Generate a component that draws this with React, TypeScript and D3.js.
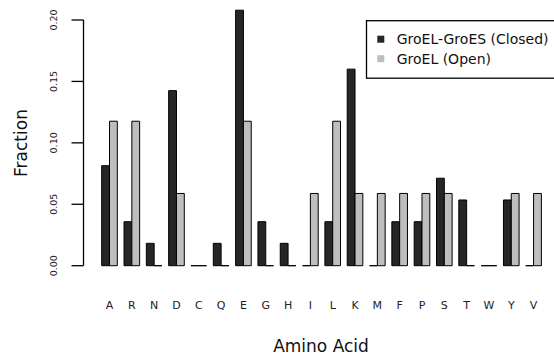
import React from "react";
import * as d3 from "d3";

const categories = ["A","R","N","D","C","Q","E","G","H","I","L","K","M","F","P","S","T","W","Y","V"];
const seriesNames = ["GroEL-GroES (Closed)", "GroEL (Open)"];
const closedValues = [0.0814,0.0358,0.0182,0.1425,0,0.0182,0.208,0.0358,0.0182,0,0.0358,0.160,0,0.0358,0.0358,0.0712,0.0535,0,0.0535,0];
const openValues = [0.1176,0.1176,0,0.0588,0,0,0.1176,0,0,0.0588,0.1176,0.0588,0.0588,0.0588,0.0588,0.0588,0,0,0.0588,0.0588];
const yTicks = [0, 0.05, 0.1, 0.15, 0.2];
const seriesColors = ["#262626", "#bebebe"];

const W = 554, H = 360;
const FONT = "DejaVu Sans";

export default function App() {
  const y = d3.scaleLinear().domain([0, 0.2]).range([265.7, 20]);
  const x = d3.scaleBand<string>().domain(categories).range([98.35, 544.75]).paddingInner(0.3).paddingOuter(0.15);
  const xs = d3.scaleBand<string>().domain(seriesNames).range([0, x.bandwidth()]);
  const series = [closedValues, openValues];
  const axisX = 83.5;

  return (
    <svg width={W} height={H} style={{ position: "absolute", left: 0, top: 0, background: "#fff" }}>
      <g>
        {categories.map((c, i) =>
          series.map((vals, s) => {
            const x0 = (x(c) as number) + (xs(seriesNames[s]) as number);
            const x1 = x0 + xs.bandwidth();
            const y0 = y(0), y1 = y(vals[i]);
            return (
              <path key={c + s} d={`M${x0},${y0}V${y1}H${x1}V${y0}Z`}
                fill={seriesColors[s]} stroke="#000" strokeWidth={1} />
            );
          })
        )}
      </g>
      <g stroke="#000" strokeWidth={1.3}>
        <line x1={axisX} x2={axisX} y1={y(0.2)} y2={y(0)} />
        {yTicks.map(t => <line key={t} x1={axisX - 12} x2={axisX} y1={y(t)} y2={y(t)} />)}
      </g>
      {yTicks.map(t => (
        <text key={t} transform={`translate(57,${y(t)}) rotate(-90)`} textAnchor="middle"
          fontFamily={FONT} fontSize={9.5} fill="#222">{d3.format(".2f")(t)}</text>
      ))}
      {categories.map(c => (
        <text key={c} x={(x(c) as number) + x.bandwidth() / 2} y={309} textAnchor="middle"
          fontFamily={FONT} fontSize={11} fill="#222">{c}</text>
      ))}
      <text x={321} y={352} textAnchor="middle" fontFamily={FONT} fontSize={17} fill="#111">Amino Acid</text>
      <text transform="translate(27,143) rotate(-90)" textAnchor="middle" fontFamily={FONT} fontSize={17} fill="#111">Fraction</text>
      <g>
        <rect x={366.5} y={20.7} width={200} height={57.5} fill="#fff" stroke="#000" strokeWidth={1.3} />
        {seriesNames.map((n, i) => (
          <g key={n}>
            <rect x={377.3} y={35.7 + i * 19.5} width={7} height={7} fill={seriesColors[i]} />
            <text x={396.7} y={44 + i * 19.5} fontFamily={FONT} fontSize={14} fill="#111">{n}</text>
          </g>
        ))}
      </g>
    </svg>
  );
}
